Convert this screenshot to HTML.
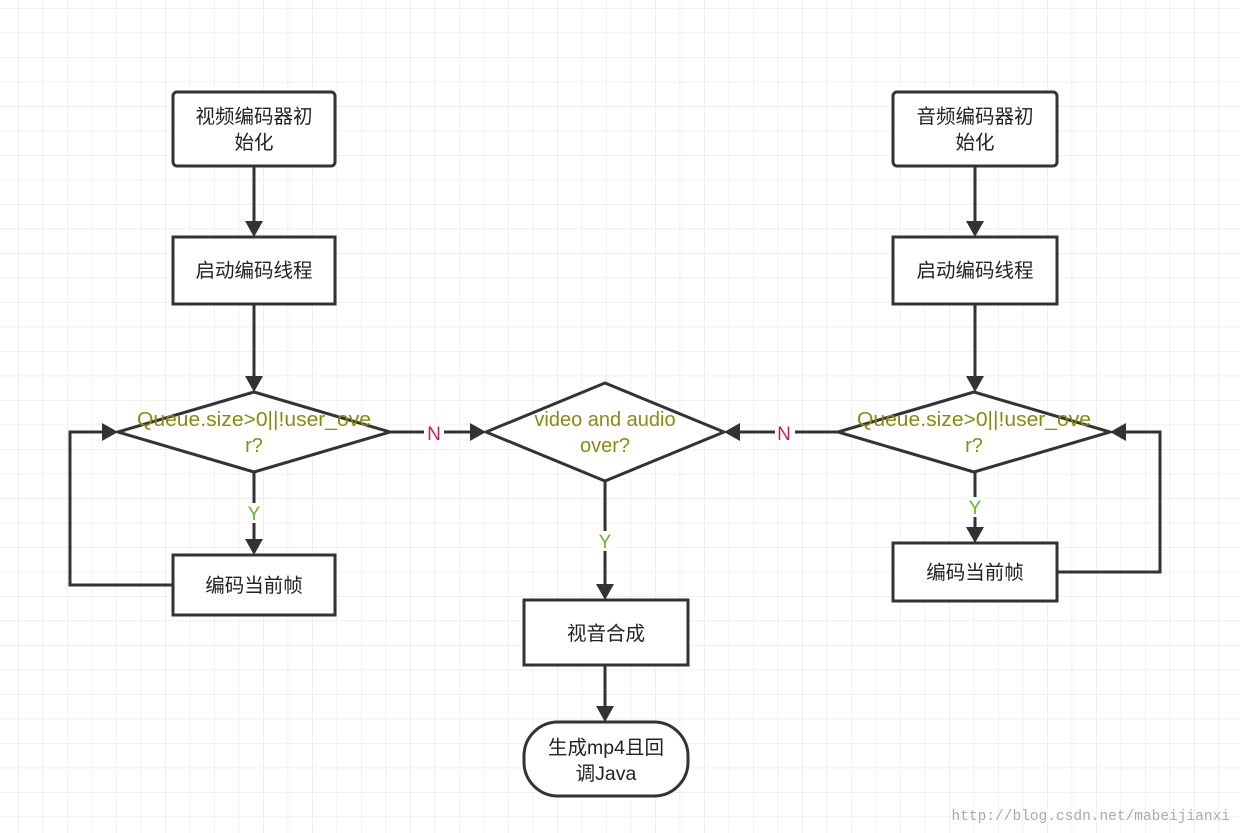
<!DOCTYPE html>
<html><head><meta charset="utf-8"><style>
html,body{margin:0;padding:0;background:#fff}
svg{display:block}
text{font-family:"Liberation Sans","Noto Sans CJK SC",sans-serif}
</style></head><body>
<svg width="1240" height="833" viewBox="0 0 1240 833" xmlns="http://www.w3.org/2000/svg">
<defs>
<pattern id="g" x="18" y="8" width="24.5" height="24.5" patternUnits="userSpaceOnUse">
<path d="M0 0V24.5M0 0H24.5" stroke="#ececec" stroke-width="1.5" fill="none"/>
</pattern>
</defs>
<rect width="1240" height="833" fill="url(#g)"/>
<g stroke="#333" stroke-width="3" fill="none">
<line x1="254" y1="166" x2="254" y2="222"/>
<line x1="254" y1="304" x2="254" y2="377"/>
<line x1="254" y1="472" x2="254" y2="540"/>
<polyline points="173,585 70,585 70,432 103,432"/>
<line x1="390" y1="432" x2="471" y2="432"/>
<line x1="605" y1="481" x2="605" y2="585"/>
<line x1="605" y1="665" x2="605" y2="707"/>
<line x1="975" y1="166" x2="975" y2="222"/>
<line x1="975" y1="304" x2="975" y2="377"/>
<line x1="975" y1="472" x2="975" y2="528"/>
<polyline points="1057,572 1160,572 1160,432 1125,432"/>
<line x1="838" y1="432" x2="739" y2="432"/>
</g>
<g fill="#333">
<polygon points="245,221 263,221 254,237"/>
<polygon points="245,376 263,376 254,392"/>
<polygon points="245,539 263,539 254,555"/>
<polygon points="102,423 102,441 118,432"/>
<polygon points="470,423 470,441 486,432"/>
<polygon points="596,584 614,584 605,600"/>
<polygon points="596,706 614,706 605,722"/>
<polygon points="966,221 984,221 975,237"/>
<polygon points="966,376 984,376 975,392"/>
<polygon points="966,527 984,527 975,543"/>
<polygon points="1126,423 1126,441 1110,432"/>
<polygon points="740,423 740,441 724,432"/>
</g>
<g stroke="#333" stroke-width="3" fill="#fff">
<rect x="173" y="92" width="162" height="74" rx="4"/>
<rect x="173" y="237" width="162" height="67"/>
<polygon points="118,432 254,392 390,432 254,472"/>
<rect x="173" y="555" width="162" height="60"/>
<polygon points="486,432 605,383 724,432 605,481"/>
<rect x="524" y="600" width="164" height="65"/>
<rect x="524" y="722" width="164" height="74" rx="34"/>
<rect x="893" y="92" width="164" height="74" rx="4"/>
<rect x="893" y="237" width="164" height="67"/>
<polygon points="838,432 974,392 1110,432 974,472"/>
<rect x="893" y="543" width="164" height="58"/>
</g>
<rect x="424" y="423" width="20" height="18" fill="#fff"/>
<rect x="775" y="423" width="20" height="18" fill="#fff"/>
<rect x="245" y="503" width="18" height="20" fill="#fff"/>
<rect x="596" y="531" width="18" height="20" fill="#fff"/>
<rect x="966" y="497" width="18" height="20" fill="#fff"/>
<g font-size="19.5" fill="#222" text-anchor="middle">
<text x="254" y="123">视频编码器初</text><text x="254" y="149">始化</text>
<text x="254" y="277">启动编码线程</text>
<text x="254" y="592">编码当前帧</text>
<text x="606" y="640">视音合成</text>
<text x="606" y="754">生成mp4且回</text><text x="606" y="780">调Java</text>
<text x="975" y="123">音频编码器初</text><text x="975" y="149">始化</text>
<text x="975" y="277">启动编码线程</text>
<text x="975" y="579">编码当前帧</text>
</g>
<g font-size="20" fill="#8a8a10" text-anchor="middle">
<text x="254" y="426" textLength="234" lengthAdjust="spacingAndGlyphs">Queue.size&gt;0||!user_ove</text><text x="254" y="452">r?</text>
<text x="605" y="426">video and audio</text><text x="605" y="452">over?</text>
<text x="974" y="426" textLength="234" lengthAdjust="spacingAndGlyphs">Queue.size&gt;0||!user_ove</text><text x="974" y="452">r?</text>
</g>
<g font-size="19" text-anchor="middle">
<text x="434" y="440" fill="#c0206a">N</text>
<text x="784" y="440" fill="#c0206a">N</text>
<text x="254" y="520" fill="#66bb22">Y</text>
<text x="605" y="548" fill="#66bb22">Y</text>
<text x="975" y="514" fill="#66bb22">Y</text>
</g>
<text x="1230" y="820" text-anchor="end" font-size="14.5" fill="#aaa" style="font-family:'Liberation Mono',monospace">http://blog.csdn.net/mabeijianxi</text>
</svg>
</body></html>
